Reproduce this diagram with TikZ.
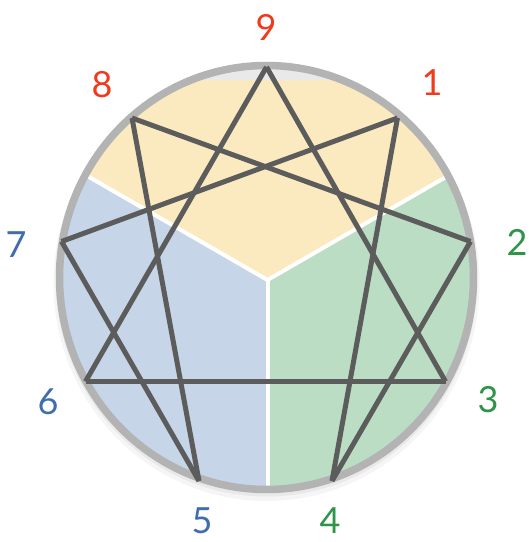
\documentclass[tikz,border=0pt]{standalone}
\usepackage{fontspec}
\setmainfont{Lato}
\usetikzlibrary{positioning}
\definecolor{ennYellow}{HTML}{FBEABF}
\definecolor{ennBlue}{HTML}{C6D5E7}
\definecolor{ennGreen}{HTML}{BADDC3}
\definecolor{ennRing}{HTML}{B3B3B3}
\definecolor{ennInk}{HTML}{5C5C5C}
\definecolor{ennRed}{HTML}{F03A1E}
\definecolor{ennBlueTxt}{HTML}{3F6DAE}
\definecolor{ennGreenTxt}{HTML}{2E9448}
\tikzset{
  every picture/.style={font=\fontsize{36}{40}\selectfont},
  enn ring/.style={draw=ennRing, line width=7.5pt},
  enn divider/.style={draw=white, line width=4pt},
  enn line/.style={draw=ennInk, line width=5pt},
  enn num/.style={inner sep=0pt}
}

\begin{document}
\begin{tikzpicture}[x=1pt,y=1pt]
  \useasboundingbox (0,0) rectangle (529,542);
  % soft shadow under the disc
  \fill[black,opacity=0.04] (266.5,259) ellipse [x radius=213,y radius=218];
  \fill[black,opacity=0.05] (266.5,261) ellipse [x radius=210.5,y radius=215.5];
  % three centres
  \coordinate (mid) at (267.5,262);
  \begin{scope}
    \clip (266.5,264.5) ellipse [x radius=207,y radius=212];
    \fill[ennYellow] (mid) -- ++(150:400) -- ++(0:700) -- cycle;
    \fill[ennBlue] (mid) -- ++(150:400) -- ++(0,-600) -- ++(346.4,0) -- cycle;
    \fill[ennGreen] (mid) -- ++(30:400) -- ++(0,-600) -- ++(-346.4,0) -- cycle;
    \draw[enn divider] (mid) -- ++(150:300);
    \draw[enn divider] (mid) -- ++(30:300);
    \draw[enn divider] (mid) -- ++(270:300);
  \end{scope}
  \draw[enn ring] (266.5,264.5) ellipse [x radius=207,y radius=212];
  % points of the figure
  \coordinate (v9) at (266.5,475);
  \coordinate (v8) at (132,424);
  \coordinate (v1) at (397.5,424);
  \coordinate (v7) at (61.5,300.5);
  \coordinate (v2) at (470.5,300.5);
  \coordinate (v6) at (85.5,160.5);
  \coordinate (v3) at (445.5,160.5);
  \coordinate (v5) at (199,61);
  \coordinate (v4) at (332,61);
  \foreach \a/\b in {9/3,3/6,6/9,1/4,4/2,2/8,8/5,5/7,7/1}
    \draw[enn line] (v\a) -- (v\b);
  % numbers
  \node[enn num,text=ennRed] (n9) at (266,515) {9};
  \node[enn num,text=ennRed] (n8) at (102,457) {8};
  \node[enn num,text=ennRed] (n1) at (432,459) {1};
  \node[enn num,text=ennGreenTxt] (n2) at (517,300) {2};
  \node[enn num,text=ennGreenTxt] (n3) at (488,142) {3};
  \node[enn num,text=ennGreenTxt] (n4) at (330,21) {4};
  \node[enn num,text=ennBlueTxt] (n5) at (202,21) {5};
  \node[enn num,text=ennBlueTxt] (n6) at (48,140) {6};
  \node[enn num,text=ennBlueTxt] (n7) at (16,297) {7};
\end{tikzpicture}
\end{document}
